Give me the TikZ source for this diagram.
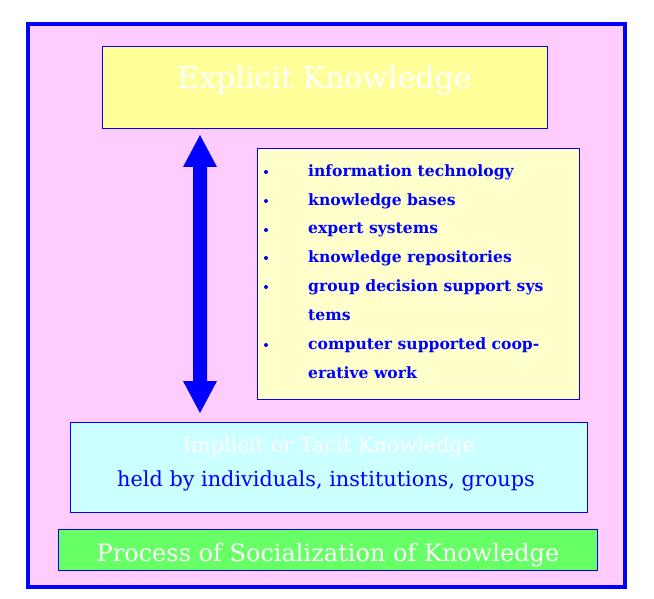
\documentclass[tikz,border=0pt]{standalone}
\usepackage{fontspec}
\setmainfont{DejaVu Serif}
\definecolor{pinkbg}{HTML}{FFCCFF}
\definecolor{yel}{HTML}{FFFF99}
\definecolor{lyel}{HTML}{FFFFCC}
\definecolor{cyanb}{HTML}{CCFFFF}
\definecolor{grn}{HTML}{66FF66}
\definecolor{bl}{HTML}{0000FF}
\begin{document}
\begin{tikzpicture}[x=1pt,y=-1pt,
  boxs/.style={draw=bl,line width=1pt},
  itm/.style={anchor=west,text=bl,font=\fontsize{15.6}{16}\selectfont\bfseries,inner sep=0pt},
  bul/.style={fill=bl,circle,inner sep=0pt,minimum size=4pt}]
\useasboundingbox (0,0) rectangle (654,599);
\fill[white] (0,0) rectangle (654,599);
\draw[bl,line width=4pt,fill=pinkbg] (28,24) rectangle (625,587);
\draw[boxs,fill=yel] (102,47) rectangle (547,129);
\node (exp) at (324.5,80) [text=white,font=\fontsize{30}{32}\selectfont] {Explicit Knowledge};
\draw[boxs,fill=lyel] (257,149) rectangle (579,399);
\foreach \y/\t in {172/information technology,201/knowledge bases,230/expert systems,258/knowledge repositories,287/group decision support sys}
  {\node[bul] at (266,\y) {}; \node[itm] at (308,\y) {\t};}
\node[itm] (t1) at (308,315) {tems};
\node[bul] at (266,345) {}; \node[itm] (c1) at (308,345) {computer supported coop-};
\node[itm] (c2) at (308,373) {erative work};
\coordinate (at) at (200,135);
\coordinate (ab) at (200,413);
\fill[bl] (at) -- (217,167) -- (207,167) -- (207,381) -- (217,381) -- (ab) -- (183,381) -- (193,381) -- (193,167) -- (183,167) -- cycle;
\draw[boxs,fill=cyanb] (70,422) rectangle (587,512);
\node (imp) at (329,447) [text=white,font=\fontsize{20.8}{22}\selectfont] {Implicit or Tacit Knowledge};
\node (held) at (326,481) [text=bl,font=\fontsize{20.8}{22}\selectfont] {held by individuals, institutions, groups};
\draw[boxs,fill=grn] (58,529) rectangle (597,570);
\node (soc) at (328,555) [text=white,font=\fontsize{24}{26}\selectfont] {Process of Socialization of Knowledge};
\end{tikzpicture}
\end{document}
